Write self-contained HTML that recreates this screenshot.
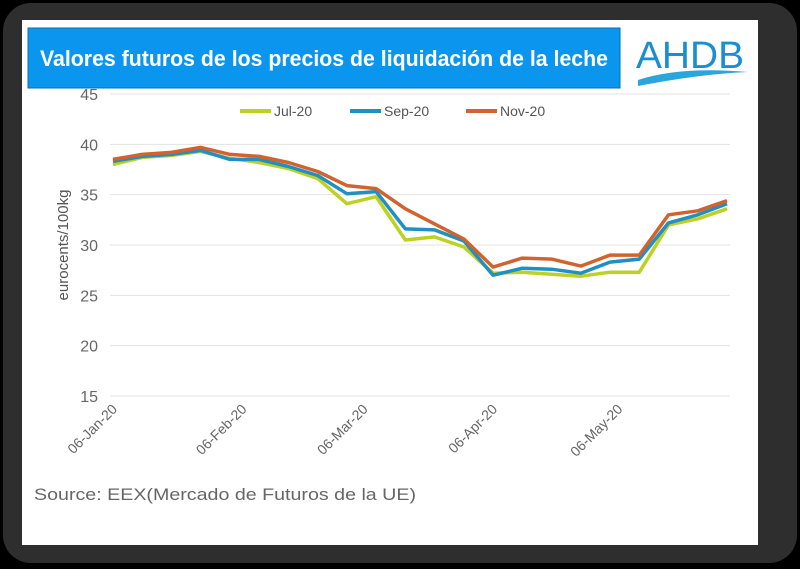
<!DOCTYPE html>
<html><head><meta charset="utf-8"><style>
html,body{margin:0;padding:0;background:#000;width:800px;height:569px;overflow:hidden;font-family:"Liberation Sans",sans-serif}
</style></head><body>
<svg width="800" height="569" viewBox="0 0 800 569">
<rect x="3" y="3" width="794" height="560" rx="28" fill="#2e2e2e"/>
<rect x="22" y="20" width="736" height="525" fill="#fff"/>
<rect x="28" y="28" width="592" height="60" fill="#0a96ee" stroke="#0a6fb5" stroke-width="1"/>
<text x="40" y="66" fill="#fff" font-size="22" font-weight="bold" textLength="568" lengthAdjust="spacingAndGlyphs">Valores futuros de los precios de liquidación de la leche</text>
<g>
<text x="690" y="68" text-anchor="middle" fill="#1a8fd0" font-size="38" textLength="108" lengthAdjust="spacingAndGlyphs">AHDB</text>
<path d="M638 80 Q680 66 748 72 Q700 74 638 86 Z" fill="#2aa6dd"/>
</g>
<g id="grid"></g><g id="axes"></g><g id="series"></g>
<text transform="translate(68,245) rotate(-90)" text-anchor="middle" fill="#555" font-size="15">eurocents/100kg</text>
<g>
<g><line x1="240" y1="111" x2="271" y2="111" stroke="#bdd122" stroke-width="4"/><text x="274" y="116" font-size="14" fill="#555">Jul-20</text></g>
<g><line x1="350" y1="111" x2="381" y2="111" stroke="#1f8fc4" stroke-width="4"/><text x="384" y="116" font-size="14" fill="#555">Sep-20</text></g>
<g><line x1="466" y1="111" x2="497" y2="111" stroke="#d0632e" stroke-width="4"/><text x="500" y="116" font-size="14" fill="#555">Nov-20</text></g>
</g>
<text x="34" y="500" font-size="17" fill="#666" textLength="382" lengthAdjust="spacingAndGlyphs">Source: EEX(Mercado de Futuros de la UE)</text>
</svg>
<script>
const yTicks=[15,20,25,30,35,40,45];
const xLabels=["06-Jan-20","06-Feb-20","06-Mar-20","06-Apr-20","06-May-20"];
const xLabelDays=[0,31,60,91,121];
const jul20=[38.0,38.7,38.9,39.3,38.6,38.2,37.6,36.6,34.1,34.8,30.5,30.8,29.8,27.2,27.3,27.1,26.9,27.3,27.3,32.0,32.6,33.6];
const sep20=[38.3,38.8,39.0,39.4,38.5,38.5,37.8,36.9,35.1,35.3,31.6,31.5,30.4,27.0,27.7,27.6,27.2,28.3,28.6,32.2,33.0,34.1];
const nov20=[38.5,39.0,39.2,39.7,39.0,38.8,38.2,37.3,35.9,35.6,33.6,32.1,30.6,27.8,28.7,28.6,27.9,29.0,29.0,33.0,33.4,34.4];
const NS="http://www.w3.org/2000/svg";
const x0=113,pxDay=614/147;
function xs(day){return x0+day*pxDay;}
function ys(v){return 396-(v-15)*(302/30);}
function mk(t,a,p){const e=document.createElementNS(NS,t);for(const k in a)e.setAttribute(k,a[k]);p.appendChild(e);return e;}
const grid=document.getElementById('grid'),axes=document.getElementById('axes'),ser=document.getElementById('series');
yTicks.forEach(v=>{
  const l=mk('line',{x1:110,x2:730,y1:ys(v),y2:ys(v),stroke:'#e3e3e3','stroke-width':1},grid);
  
  
  const t=mk('text',{x:98,y:ys(v)+6,'text-anchor':'end','font-size':16,fill:'#666'},axes);
  t.textContent=v;
  
  
});
xLabels.forEach((s,i)=>{
  const x=xs(xLabelDays[i]);
  const t=mk('text',{transform:'translate('+(x+5)+',410) rotate(-45)','text-anchor':'end','font-size':14,fill:'#666'},axes);
  t.textContent=s;
  
  
});
[[jul20,'#bdd122','jul-20'],[sep20,'#1f8fc4','sep-20'],[nov20,'#d0632e','nov-20']].forEach(([d,c,n])=>{
  const pts=d.map((v,i)=>xs(i*7).toFixed(1)+','+ys(v).toFixed(1)).join(' ');
  const p=mk('polyline',{points:pts,fill:'none',stroke:c,'stroke-width':3.5,'stroke-linejoin':'round'},ser);
  
  
});
</script>
</body></html>
